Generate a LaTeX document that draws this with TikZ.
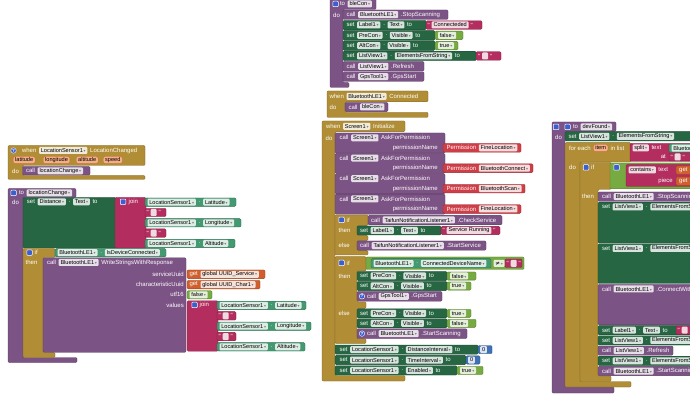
\documentclass[tikz,border=0pt]{standalone}
\usepackage{fontspec}
\setmainfont{Liberation Sans}
\newfontfamily\dvfont{DejaVu Sans}
\definecolor{ctrl}{HTML}{B18E35}
\definecolor{proc}{HTML}{7C5385}
\definecolor{setc}{HTML}{266643}
\definecolor{getc}{HTML}{439970}
\definecolor{txt}{HTML}{B32D5E}
\definecolor{logic}{HTML}{77AB41}
\definecolor{var}{HTML}{D05F2D}
\definecolor{mth}{HTML}{3F71B5}
\definecolor{perm}{HTML}{CF3D47}
\definecolor{iconblue}{HTML}{3B5FD0}
\definecolor{pillc}{HTML}{F2B089}
\tikzset{
 blk/.style={fill=#1,draw=#1!72!black,line width=0.35pt,rounded corners=1.2pt},
 lbl/.style={anchor=west,inner sep=0pt,text=white,font=\fontsize{6}{7}\selectfont},
 fld/.style={anchor=west,inner xsep=1.8pt,inner ysep=0pt,minimum height=7pt,fill=white,fill opacity=0.82,text opacity=1,text=black,rounded corners=1pt,font=\fontsize{5.6}{6.5}\selectfont},
 pill/.style={anchor=west,inner xsep=2pt,inner ysep=0pt,minimum height=7pt,fill=pillc,draw=var,line width=0.3pt,text=black,rounded corners=2pt,font=\fontsize{5.6}{6.5}\selectfont},
 ico/.style={rectangle,fill=iconblue,draw=white,line width=0.5pt,minimum size=5.5pt,inner sep=0pt,rounded corners=0.8pt},
 qic/.style={circle,fill=iconblue,draw=white,line width=0.4pt,minimum size=5.5pt,inner sep=0pt,text=white,font=\fontsize{4.5}{4.5}\selectfont\bfseries}
}
\newcount\nid
\newcommand\nn{\global\advance\nid by 1\relax}
\newcommand\arr{\hspace{0.8pt}{\dvfont\fontsize{4}{4}\selectfont\color{black!50}▾}}
\newcommand\gp{2.3pt}
\newcommand\rowat[2]{\nn\coordinate (c\the\nid) at (#1,#2);\xdef\prevn{c\the\nid}}
\newcommand\labx[2]{\nn\node[lbl] (l\the\nid) at ([xshift=#1]\prevn) {#2};\xdef\prevn{l\the\nid.east}}
\newcommand\lab[1]{\labx{\gp}{#1}}
\newcommand\fdd[1]{\nn\node[fld] (f\the\nid) at ([xshift=\gp]\prevn) {#1\arr};\xdef\prevn{f\the\nid.east}}
\newcommand\tfd[1]{\nn\node[fld] (t\the\nid) at ([xshift=1.5pt]\prevn) {#1};\xdef\prevn{t\the\nid.east}}
\newcommand\emp{\nn\node[fld,minimum width=6pt] (t\the\nid) at ([xshift=1.5pt]\prevn) {};\xdef\prevn{t\the\nid.east}}
\newcommand\quo{\labx{1.5pt}{\textquotedbl}}
\newcommand\dotl{\labx{2.5pt}{.}}
\newcommand\pil[1]{\nn\node[pill] (p\the\nid) at ([xshift=\gp]\prevn) {#1};\xdef\prevn{p\the\nid.east}}
\newcommand\bk[5]{\filldraw[blk=#1] (#2,#3) rectangle (#4,#5);}
\newcommand\pg[2]{\filldraw[blk=#1] #2 -- cycle;}
\newcommand\gear[2]{\nn\node[ico] (g\the\nid) at (#1,#2) {};}
\newcommand\qm[2]{\nn\node[qic] (q\the\nid) at (#1,#2) {?};}
\newcommand\lb[3]{\nn\node[lbl] (l\the\nid) at (#1,#2) {#3};}
\newcommand\lbr[3]{\nn\node[lbl,anchor=east] (l\the\nid) at (#1,#2) {#3};}
\newcommand\pl[3]{\nn\node[pill] (p\the\nid) at (#1,#2) {#3};}
\begin{document}
\begin{tikzpicture}[x=1pt,y=-1pt]
\fill[white] (0,0) rectangle (690,411);
\useasboundingbox (0,0) rectangle (690,411);
\clip (0,0) rectangle (690,411);

% ===== bleCon procedure =====
\pg{proc}{(330,-2) -- (376,-2) -- (376,9.5) -- (343,9.5) -- (343,82.5) -- (349,82.5) -- (349,87.5) -- (330,87.5)}
\gear{335.5}{4}
\rowat{337.5}{4}\lab{to}\fdd{bleCon}
\lb{333}{15}{do}
\bk{proc}{343}{10}{448}{19.5}\rowat{344}{14.7}\lab{call}\fdd{BluetoothLE1}\lab{.StopScanning}
\bk{setc}{343}{20.3}{426}{29.8}\rowat{344}{25}\lab{set}\fdd{Label1}\dotl\fdd{Text}\lab{to}
\bk{txt}{426}{20.8}{482}{29.3}\rowat{426}{25}\quo\tfd{Connecteded}\quo
\bk{setc}{343}{30.6}{435}{40.1}\rowat{344}{35.3}\lab{set}\fdd{PreCon}\dotl\fdd{Visible}\lab{to}
\bk{logic}{435}{31.1}{463}{39.6}\rowat{435.5}{35.3}\fdd{false}
\bk{setc}{343}{40.9}{435}{50.4}\rowat{344}{45.6}\lab{set}\fdd{AltCon}\dotl\fdd{Visible}\lab{to}
\bk{logic}{435}{41.4}{458}{49.9}\rowat{435.5}{45.6}\fdd{true}
\bk{setc}{343}{51.2}{476}{60.7}\rowat{344}{56}\lab{set}\fdd{ListView1}\dotl\fdd{ElementsFromString}\lab{to}
\bk{txt}{476}{51.7}{501}{60.2}\rowat{476.5}{56}\quo\emp\quo
\bk{proc}{343}{61.5}{424}{71}\rowat{344}{66.3}\lab{call}\fdd{ListView1}\lab{.Refresh}
\bk{proc}{343}{71.8}{424}{81.3}\rowat{344}{76.6}\lab{call}\fdd{GpsTool1}\lab{.GpsStart}

% ===== when BluetoothLE1.Connected =====
\pg{ctrl}{(327,91) -- (428,91) -- (428,101.8) -- (345,101.8) -- (345,112.3) -- (428,112.3) -- (428,117.5) -- (327,117.5)}
\rowat{327}{96.4}\lab{when}\fdd{BluetoothLE1}\lab{Connected}
\lb{329.5}{107}{do}
\bk{proc}{345}{102.5}{388}{111.6}\rowat{346}{107}\lab{call}\fdd{bleCon}

% ===== when Screen1.Initialize =====
\pg{ctrl}{(322,121) -- (405,121) -- (405,131.6) -- (335,131.6) -- (335,375.5) -- (405,375.5) -- (405,381) -- (322,381)}
\rowat{323.5}{126.3}\lab{when}\fdd{Screen1}\lab{Initialize}
\lb{325.5}{138}{do}
\foreach \k/\pn/\pe in {0/FineLocation/521, 1/BluetoothConnect/533, 2/BluetoothScan/525, 3/FineLocation/521}{
  \pgfmathsetmacro\yo{133+20.4*\k}
  \bk{proc}{335}{\yo}{445}{\yo+20}
  \rowat{337}{\yo+4.8}\lab{call}\fdd{Screen1}\lab{AskForPermission}
  \lbr{438}{\yo+14.8}{permissionName}
  \bk{perm}{443}{\yo+10.5}{\pe}{\yo+19.2}
  \rowat{444}{\yo+14.8}\lab{Permission}\fdd{\pn}
}
% if 1
\pg{ctrl}{(335,215) -- (368,215) -- (368,225.6) -- (357,225.6) -- (357,235.4) -- (368,235.4) -- (368,240.6) -- (357,240.6) -- (357,250.4) -- (368,250.4) -- (368,255) -- (335,255)}
\gear{341.5}{220}\lb{346.5}{220}{if}
\bk{proc}{368}{215.4}{502}{224.8}\rowat{368.5}{220}\lab{call}\fdd{TaifunNotificationListener1}\lab{.CheckService}
\lb{338.5}{230.5}{then}
\bk{setc}{357}{226}{441}{235}\rowat{357.5}{230.5}\lab{set}\fdd{Label1}\dotl\fdd{Text}\lab{to}
\bk{txt}{441}{226.4}{500}{234.6}\rowat{441}{230.5}\quo\tfd{Service Running}\quo
\lb{338.5}{245.5}{else}
\bk{proc}{357}{241}{486}{250.2}\rowat{357.5}{245.6}\lab{call}\fdd{TaifunNotificationListener1}\lab{.StartService}
% if 2
\pg{ctrl}{(335,256.5) -- (366,256.5) -- (366,271) -- (357,271) -- (357,302) -- (366,302) -- (366,308.4) -- (357,308.4) -- (357,338.8) -- (366,338.8) -- (366,343.5) -- (335,343.5)}
\gear{341.5}{263}\lb{346.5}{263}{if}
\bk{logic}{366}{257}{524}{269.5}
\bk{getc}{371}{258.6}{491}{268}\rowat{371}{263.3}\fdd{BluetoothLE1}\dotl\fdd{ConnectedDeviceName}
\rowat{491}{263.3}\fdd{{\dvfont ≠}}
\bk{txt}{505}{259}{522}{267.5}\rowat{505}{263.3}\quo\emp\quo
\lb{338.5}{276.5}{then}
\bk{setc}{357}{271.5}{447}{280.6}\rowat{357.5}{276}\lab{set}\fdd{PreCon}\dotl\fdd{Visible}\lab{to}
\bk{logic}{447}{272}{476}{280.1}\rowat{447.5}{276}\fdd{false}
\bk{setc}{357}{281.5}{447}{290.6}\rowat{357.5}{286}\lab{set}\fdd{AltCon}\dotl\fdd{Visible}\lab{to}
\bk{logic}{447}{282}{471}{290.1}\rowat{447.5}{286}\fdd{true}
\bk{proc}{357}{291.5}{442}{301.2}\qm{362}{296.3}\rowat{364.5}{296.3}\lab{call}\fdd{GpsTool1}\lab{.GpsStart}
\lb{338.5}{313.5}{else}
\bk{setc}{357}{308.8}{447}{317.9}\rowat{357.5}{313.3}\lab{set}\fdd{PreCon}\dotl\fdd{Visible}\lab{to}
\bk{logic}{447}{309.3}{471}{317.4}\rowat{447.5}{313.3}\fdd{true}
\bk{setc}{357}{318.8}{447}{327.9}\rowat{357.5}{323.3}\lab{set}\fdd{AltCon}\dotl\fdd{Visible}\lab{to}
\bk{logic}{447}{319.3}{476}{327.4}\rowat{447.5}{323.3}\fdd{false}
\bk{proc}{357}{328.8}{467}{338.5}\qm{362}{333.6}\rowat{364.5}{333.6}\lab{call}\fdd{BluetoothLE1}\lab{.StartScanning}
% sets
\bk{setc}{335}{345}{478}{354.2}\rowat{337}{349.6}\lab{set}\fdd{LocationSensor1}\dotl\fdd{DistanceInterval}\lab{to}
\bk{mth}{478}{345.5}{492}{353.7}\rowat{478.5}{349.6}\tfd{0}
\bk{setc}{335}{355.4}{466}{364.6}\rowat{337}{360}\lab{set}\fdd{LocationSensor1}\dotl\fdd{TimeInterval}\lab{to}
\bk{mth}{466}{355.9}{480}{364.1}\rowat{466.5}{360}\tfd{0}
\bk{setc}{335}{365.8}{457}{375}\rowat{337}{370.4}\lab{set}\fdd{LocationSensor1}\dotl\fdd{Enabled}\lab{to}
\bk{logic}{457}{366.3}{483}{374.5}\rowat{457.5}{370.4}\fdd{true}

% ===== when LocationSensor1.LocationChanged =====
\pg{ctrl}{(8,145.5) -- (145,145.5) -- (145,165.5) -- (22.5,165.5) -- (22.5,175.5) -- (145,175.5) -- (145,179.5) -- (8,179.5)}
\qm{13.5}{150.5}
\rowat{19.5}{150.5}\lab{when}\fdd{LocationSensor1}\lab{LocationChanged}
\pl{13}{160}{latitude}\pl{43}{160}{longitude}\pl{76}{160}{altitude}\pl{103}{160}{speed}
\lb{12}{171}{do}
\bk{proc}{22.5}{166.5}{90}{175}\rowat{23.5}{170.8}\lab{call}\fdd{locationChange}

% ===== to locationChange =====
\pg{proc}{(8,188.5) -- (76,188.5) -- (76,197.5) -- (23,197.5) -- (23,357.5) -- (77,357.5) -- (77,362.5) -- (8,362.5)}
\gear{13.5}{193}\rowat{16.5}{193}\lab{to}\fdd{locationChange}
\lb{12}{202}{do}
\bk{setc}{23}{197.5}{116}{248}\rowat{24.5}{201.8}\lab{set}\fdd{Distance}\dotl\fdd{Text}\lab{to}
\bk{txt}{115}{197.5}{146}{248}\gear{123}{201.8}\lb{128.5}{201.8}{join}
\bk{getc}{145}{198}{236}{206.4}\rowat{145}{202.2}\fdd{LocationSensor1}\dotl\fdd{Latitude}
\bk{txt}{145}{208.3}{166}{216.7}\rowat{145}{212.5}\quo\emp\quo
\bk{getc}{145}{218.6}{241}{227}\rowat{145}{222.8}\fdd{LocationSensor1}\dotl\fdd{Longitude}
\bk{txt}{145}{228.9}{166}{237.3}\rowat{145}{233.1}\quo\emp\quo
\bk{getc}{145}{239.2}{235}{247.6}\rowat{145}{243.4}\fdd{LocationSensor1}\dotl\fdd{Altitude}
% if
\pg{ctrl}{(23,248.3) -- (55,248.3) -- (55,257.5) -- (43,257.5) -- (43,352.3) -- (55,352.3) -- (55,357.5) -- (23,357.5)}
\gear{29.5}{252.6}\lb{34.5}{252.6}{if}
\bk{getc}{55}{248.6}{166}{256.8}\rowat{55}{252.7}\fdd{BluetoothLE1}\dotl\fdd{IsDeviceConnected}
\lb{25.5}{262.5}{then}
\bk{proc}{43}{257.8}{186}{352.3}\rowat{44.5}{262.5}\lab{call}\fdd{BluetoothLE1}\lab{WriteStringsWithResponse}
\lbr{184}{274.3}{serviceUuid}
\lbr{184}{284.6}{characteristicUuid}
\lbr{184}{294.8}{utf16}
\lbr{184}{305}{values}
\bk{var}{187}{270}{265}{278.6}\rowat{187}{274.3}\lab{get}\fdd{global UUID\_Service}
\bk{var}{187}{280.3}{260}{288.9}\rowat{187}{284.6}\lab{get}\fdd{global UUID\_Char1}
\bk{logic}{187}{290.7}{212}{298.9}\rowat{187}{294.8}\fdd{false}
\bk{txt}{187}{300.8}{218}{351.2}\gear{194.5}{305}\lb{199.5}{305}{join}
\bk{getc}{217}{301.2}{306}{309.6}\rowat{217}{305.4}\fdd{LocationSensor1}\dotl\fdd{Latitude}
\bk{txt}{217}{311.6}{236}{320}\rowat{217}{315.8}\quo\emp\quo
\bk{getc}{217}{322}{311}{330.4}\rowat{217}{326.2}\fdd{LocationSensor1}\dotl\fdd{Longitude}
\bk{txt}{217}{332.4}{236}{340.8}\rowat{217}{336.6}\quo\emp\quo
\bk{getc}{217}{342.6}{305}{351}\rowat{217}{346.8}\fdd{LocationSensor1}\dotl\fdd{Altitude}

% ===== to devFound =====
\pg{proc}{(552,122) -- (616,122) -- (616,131.3) -- (565,131.3) -- (565,387) -- (614,387) -- (614,393) -- (552,393)}
\gear{556}{127}\gear{567.5}{127}\rowat{570.5}{127}\lab{to}\fdd{devFound}
\lb{555}{137}{do}
\bk{setc}{565}{131.6}{695}{141}\rowat{566}{136.3}\lab{set}\fdd{ListView1}\dotl\fdd{ElementsFromString}
% for each
\pg{ctrl}{(565,142.6) -- (631,142.6) -- (631,162) -- (580,162) -- (580,381.5) -- (631,381.5) -- (631,387) -- (565,387)}
\rowat{566.5}{148}\lab{for each}\pil{item}\lab{in list}
\bk{txt}{630}{143.3}{695}{161.3}\rowat{630}{148}\fdd{split}\lab{text}
\bk{getc}{669}{144}{695}{152.3}\rowat{669}{148.1}\fdd{BluetoothLE1}
\lbr{666}{157}{at}
\bk{txt}{669}{153}{695}{161}\rowat{669}{157}\quo\emp\quo
\lb{569}{167.5}{do}
% if
\pg{ctrl}{(580,162.3) -- (611,162.3) -- (611,189.5) -- (598,189.5) -- (598,376) -- (611,376) -- (611,381.5) -- (580,381.5)}
\gear{586}{167.5}\lb{591}{167.5}{if}
\bk{logic}{610}{163}{695}{188.8}\gear{616.5}{167.5}
\bk{txt}{626}{164.5}{695}{186.5}\rowat{626}{170}\fdd{contains}\lab{text}
\bk{var}{676}{166}{695}{174.3}\lb{679}{170.1}{get}
\lbr{673}{181.2}{piece}
\bk{var}{676}{177}{695}{185.3}\lb{679}{181.2}{get}
\lb{582}{196.5}{then}
\bk{proc}{598}{192}{695}{201.3}\rowat{599.5}{196.7}\lab{call}\fdd{BluetoothLE1}\lab{.StopScanning}
\bk{setc}{598}{202.2}{695}{243}\rowat{599.5}{207}\lab{set}\fdd{ListView1}\dotl\fdd{ElementsFromString}
\bk{setc}{598}{243.8}{695}{283.5}\rowat{599.5}{248.5}\lab{set}\fdd{ListView1}\dotl\fdd{ElementsFromString}
\bk{proc}{598}{284.3}{695}{324.8}\rowat{599.5}{289}\lab{call}\fdd{BluetoothLE1}\lab{.ConnectWithAddress}
\bk{setc}{598}{325.6}{695}{334.8}\rowat{599.5}{330.2}\lab{set}\fdd{Label1}\dotl\fdd{Text}\lab{to}
\bk{txt}{676}{326}{695}{334.4}\rowat{676}{330.2}\quo\emp
\bk{setc}{598}{335.8}{695}{345}\rowat{599.5}{340.4}\lab{set}\fdd{ListView1}\dotl\fdd{ElementsFromString}
\bk{proc}{598}{346}{673}{355.2}\rowat{599.5}{350.6}\lab{call}\fdd{ListView1}\lab{.Refresh}
\bk{setc}{598}{356.2}{695}{365.4}\rowat{599.5}{360.8}\lab{set}\fdd{ListView1}\dotl\fdd{ElementsFromString}
\bk{proc}{598}{366.4}{695}{375.6}\rowat{599.5}{371}\lab{call}\fdd{BluetoothLE1}\lab{.StartScanning}
\end{tikzpicture}
\end{document}
